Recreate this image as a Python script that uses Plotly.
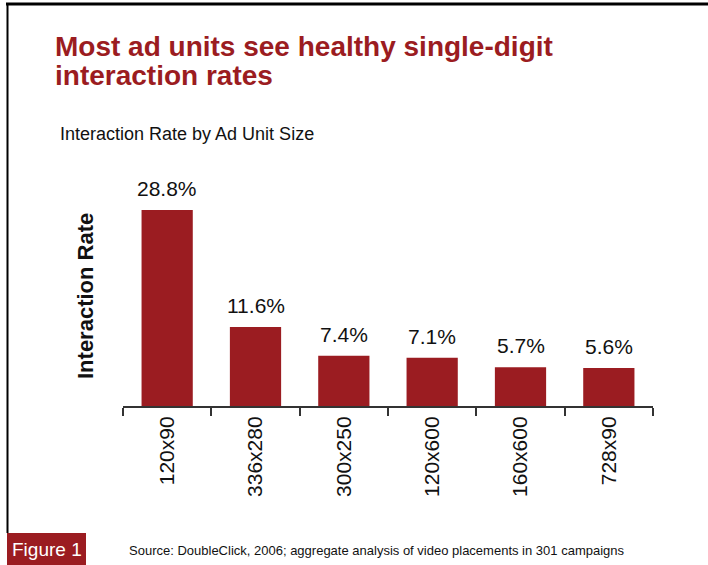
import plotly.graph_objects as go

categories = ["120x90", "336x280", "300x250", "120x600", "160x600", "728x90"]
rates = [28.8, 11.6, 7.4, 7.1, 5.7, 5.6]

title_lines = ["Most ad units see healthy single-digit", "interaction rates"]
subtitle_text = "Interaction Rate by Ad Unit Size"
y_title = "Interaction Rate"
fig_label = "Figure 1"
source_text = "Source: DoubleClick, 2006; aggregate analysis of video placements in 301 campaigns"

W, H = 708, 565
ML, MR, MT, MB = 123, 55, 189, 159
PW = W - ML - MR
PH = H - MT - MB

def px(x):
    return (x - ML) / PW

def py(y):
    return (H - MB - y) / PH

RED = "#9b1c21"
FONT = "Liberation Sans, Arial, sans-serif"

fig = go.Figure(go.Bar(
    x=categories, y=rates,
    marker=dict(color=RED, line=dict(width=0)),
    hoverinfo="skip",
))

for c, v in zip(categories, rates):
    fig.add_annotation(x=c, y=v, text=f"{v:.1f}%", showarrow=False,
                       yanchor="bottom", yshift=8,
                       font=dict(family=FONT, size=21, color="#111"))

fig.update_layout(
    width=W, height=H,
    margin=dict(l=ML, r=MR, t=MT, b=MB, pad=0),
    paper_bgcolor="white", plot_bgcolor="white",
    showlegend=False,
    bargap=0.42,
    font=dict(family=FONT, color="#111"),
)
fig.update_xaxes(
    showline=True, linecolor="#333", linewidth=2,
    ticks="outside", ticklen=8, tickcolor="#333", tickwidth=1.5,
    tickson="boundaries", tickangle=-90,
    tickfont=dict(family=FONT, size=21, color="#111"),
    showgrid=False, zeroline=False,
)
fig.update_yaxes(range=[0, 31.9], visible=False)

# frame lines
fig.add_shape(type="line", xref="paper", yref="paper",
              x0=px(6), x1=px(708), y0=py(4), y1=py(4),
              line=dict(color="black", width=3))
fig.add_shape(type="line", xref="paper", yref="paper",
              x0=px(7.5), x1=px(7.5), y0=py(3), y1=py(533),
              line=dict(color="black", width=2))
# figure label box
fig.add_shape(type="rect", xref="paper", yref="paper",
              x0=px(7), x1=px(86), y0=py(533), y1=py(566),
              fillcolor=RED, line=dict(width=0))

for i, line in enumerate(title_lines):
    fig.add_annotation(xref="paper", yref="paper", x=px(53), y=py(46 + 30 * i),
                       xanchor="left", yanchor="middle", align="left",
                       text="<b>" + line + "</b>", showarrow=False,
                       font=dict(family=FONT, size=28, color=RED))
fig.add_annotation(xref="paper", yref="paper", x=px(58), y=py(134),
                   xanchor="left", yanchor="middle",
                   text=subtitle_text, showarrow=False,
                   font=dict(family=FONT, size=18, color="#111"))
fig.add_annotation(xref="paper", yref="paper", x=px(85), y=py(296),
                   xanchor="center", yanchor="middle", textangle=-90,
                   text="<b>" + y_title + "</b>", showarrow=False,
                   font=dict(family=FONT, size=22, color="#111"))
fig.add_annotation(xref="paper", yref="paper", x=px(46.5), y=py(549),
                   xanchor="center", yanchor="middle",
                   text=fig_label, showarrow=False,
                   font=dict(family=FONT, size=19, color="white"))
fig.add_annotation(xref="paper", yref="paper", x=px(127), y=py(550),
                   xanchor="left", yanchor="middle",
                   text=source_text, showarrow=False,
                   font=dict(family=FONT, size=13, color="#111"))

fig.write_html("out.html")
